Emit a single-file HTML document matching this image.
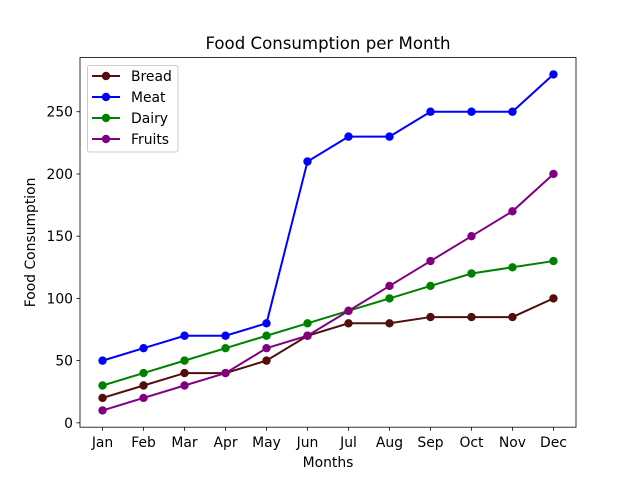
<!DOCTYPE html>
<html><head><meta charset="utf-8"><style>body{margin:0;background:#fff}svg{font-family:"DejaVu Sans","Liberation Sans",sans-serif}</style></head>
<body>
<svg id="chart" width="640" height="480" xmlns="http://www.w3.org/2000/svg">
<rect width="640" height="480" fill="#fff"/>
<text x="328" y="49" font-size="16.6" text-anchor="middle">Food Consumption per Month</text>
<g id="plot"></g>
<rect x="80" y="57.6" width="496" height="369.6" fill="none" stroke="#000" stroke-width="0.8"/>
<text x="328" y="467" font-size="13.9" text-anchor="middle">Months</text>
<text transform="translate(35,242.4) rotate(-90)" font-size="13.9" text-anchor="middle">Food Consumption</text>
<g id="legend">
<rect x="87.5" y="65.5" width="90.5" height="86.5" rx="2" fill="#fff" fill-opacity="0.8" stroke="#ccc" stroke-width="1"/>
</g>
</svg>
<script>
const months=["Jan","Feb","Mar","Apr","May","Jun","Jul","Aug","Sep","Oct","Nov","Dec"];
const bread=[20,30,40,40,50,70,80,80,85,85,85,100];
const meat=[50,60,70,70,80,210,230,230,250,250,250,280];
const dairy=[30,40,50,60,70,80,90,100,110,120,125,130];
const fruits=[10,20,30,40,60,70,90,110,130,150,170,200];
const yTicks=[0,50,100,150,200,250];
const seriesNames=["Bread","Meat","Dairy","Fruits"];
const NS="http://www.w3.org/2000/svg";
const L=80,R=576,T=57.6,B=427.2,ymin=-3.5,ymax=293.5,xmin=-0.55,xmax=11.55;
const sx=i=>L+(i-xmin)/(xmax-xmin)*(R-L);
const sy=v=>B-(v-ymin)/(ymax-ymin)*(B-T);
const svg=document.getElementById('chart'),plot=document.getElementById('plot'),leg=document.getElementById('legend');
function mk(t,a,p){const e=document.createElementNS(NS,t);for(const k in a)e.setAttribute(k,a[k]);(p||svg).appendChild(e);return e;}
months.forEach((m,i)=>{const x=sx(i);
const t=mk('line',{x1:x,x2:x,y1:B,y2:B+3.5,stroke:'#000','stroke-width':0.8});


const l=mk('text',{x:x,y:B+20,'font-size':13.9,'text-anchor':'middle'});l.textContent=m;

});
yTicks.forEach(v=>{const y=sy(v);
const t=mk('line',{x1:L-3.5,x2:L,y1:y,y2:y,stroke:'#000','stroke-width':0.8});


const l=mk('text',{x:L-7,y:y+5,'font-size':13.9,'text-anchor':'end'});l.textContent=v;

});
const all=[bread,meat,dairy,fruits],cols=["#520d0d","#0000ff","#008000","#800080"];
all.forEach((d,s)=>{
const g=mk('g',{},plot);


mk('polyline',{points:d.map((v,i)=>sx(i)+','+sy(v)).join(' '),fill:'none',stroke:cols[s],'stroke-width':2},g);
d.forEach((v,i)=>{const c=mk('circle',{cx:sx(i),cy:sy(v),r:4.2,fill:cols[s]},g);

});
const y=76+s*21;
const e=mk('g',{},leg);


mk('line',{x1:92,x2:120,y1:y,y2:y,stroke:cols[s],'stroke-width':2},e);
mk('circle',{cx:106,cy:y,r:4.2,fill:cols[s]},e);
const tx=mk('text',{x:131,y:y+5,'font-size':13.9},e);tx.textContent=seriesNames[s];
});
</script>
</body></html>
